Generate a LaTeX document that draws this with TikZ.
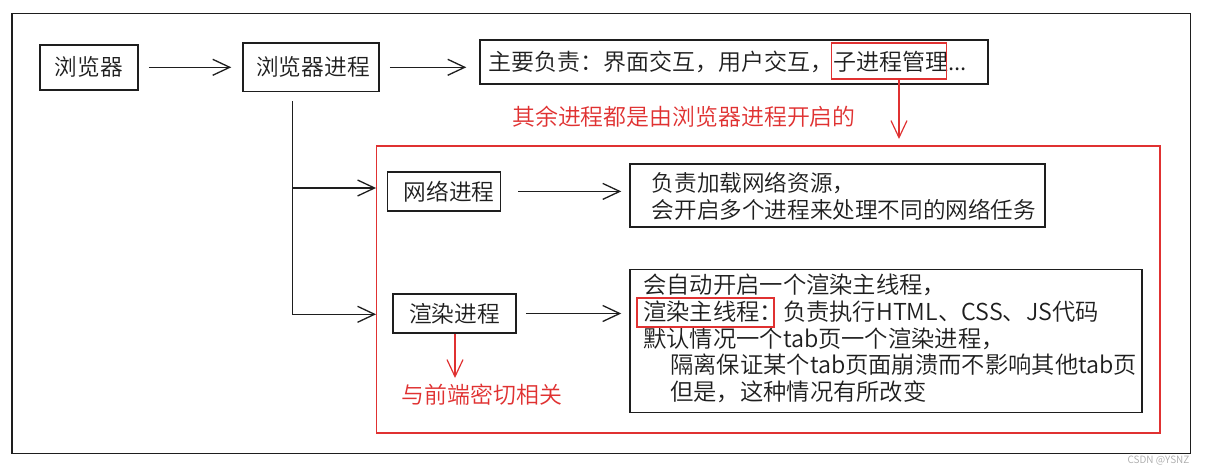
\documentclass[tikz,border=0pt]{standalone}
\usepackage{fontspec}
\setmainfont{Noto Sans CJK SC}[UprightFont=* DemiLight]
\usetikzlibrary{arrows.meta,calc}
\definecolor{ink}{HTML}{1E1E1E}
\definecolor{redx}{HTML}{E03131}
\definecolor{wmgray}{HTML}{ABABAB}
\begin{document}
\begin{tikzpicture}[x=1pt,y=-1pt,
  box/.style={draw=ink, line width=1.5pt, inner sep=0pt, text=ink, font=\fontsize{22.7}{26}\selectfont},
  txt/.style={text=ink, inner sep=0pt, align=left},
  hl/.style={draw=redx, line width=1.2pt, inner sep=0pt},
  conn/.style={draw=ink, line width=1.3pt, -{Straight Barb[length=17pt,width=16pt]}},
  rconn/.style={draw=redx, line width=1.2pt, -{Straight Barb[length=17pt,width=16pt]}},
  rtext/.style={text=redx, inner sep=0pt, font=\fontsize{22.9}{26}\selectfont},
]
\useasboundingbox (0,0) rectangle (1205,474);
\fill[white] (0,0) rectangle (1205,474);
% outer frame
\draw[ink, line width=1.5pt] (12,13.5) rectangle (1190.7,453.3);

% top row
\node[box, minimum width=98pt, minimum height=45pt] (b1) at (89,67.3) {浏览器};
\node[box, minimum width=136pt, minimum height=48.7pt] (b2) at (311,67.3) {\hspace*{4pt}浏览器进程};
\node[box, minimum height=44pt, text width=492pt, inner xsep=8pt, align=left, font=\fontsize{23}{26}\selectfont] (b3) at (734,62) {主要负责：界面交互，用户交互，子进程管理...};
\node[hl, minimum width=115pt, minimum height=36pt] (r1) at (889.2,61) {};

\draw[conn, shorten <=10pt, shorten >=11pt] (b1.east) -- (b2.west);
\draw[conn, shorten <=10pt, shorten >=13pt] (b2.east) -- (b2.east -| b3.west);

% red note
\node[rtext] (t1) at (684,117) {其余进程都是由浏览器进程开启的};
\coordinate (rt1) at (899,139);
\draw[rconn] (r1.south -| rt1) -- (rt1);

% red group
\node[draw=redx, line width=1.3pt, minimum width=783.3pt, minimum height=287pt, inner sep=0pt] (grp) at (768.35,289.5) {};

% trunk
\coordinate (j1) at (292.3,188);
\coordinate (j2) at (292.3,314.3);
\draw[conn] ($(b2.south -| j1)+(0,9)$) -- (j2) -- (j2 -| grp.west);
\draw[conn] (j1) -- (j1 -| grp.west);

% network process
\node[box, minimum width=113.4pt, minimum height=39.3pt] (b4) at (444,191.4) {\hspace*{10pt}网络进程};
\node[box, minimum width=415pt, minimum height=63pt] (b5) at (837.5,195.5) {};
\node[txt, anchor=west, font=\fontsize{22.6}{26.7}\selectfont] (b5t) at (651.7,196.3) {负责加载网络资源，\\会开启多个进程来处理不同的网络任务};
\draw[conn, shorten <=17pt, shorten >=8pt] (b4.east) -- (b4.east -| b5.west);

% render process
\node[box, minimum width=122.7pt, minimum height=39pt] (b6) at (454.4,313.5) {渲染进程};
\node[box, minimum width=512pt, minimum height=143pt] (b7) at (886,341) {};
\node[txt, anchor=west, font=\fontsize{23.3}{26.7}\selectfont] (b7t) at (643,338.4) {会自动开启一个渲染主线程，\\渲染主线程：负责执行HTML、CSS、JS代码\\默认情况一个tab页一个渲染进程，\\\hspace*{27pt}隔离保证某个tab页面崩溃而不影响其他tab页\\\hspace*{27pt}但是，这种情况有所改变};
\node[hl, minimum width=137pt, minimum height=29pt] (r2) at (705.5,312.5) {};
\draw[conn, shorten <=9.3pt, shorten >=8pt] (b6.east) -- (b6.east -| b7.west);

\node[rtext] (t2) at (482,395) {与前端密切相关};
\coordinate (rt2) at (455,378);
\draw[rconn] (b6.south -| rt2) -- (rt2);

% watermark
\node[text=wmgray, inner sep=0pt, font=\fontsize{10}{10}\selectfont] (wm) at (1158.5,461) {CSDN @YSNZ};
\end{tikzpicture}
\end{document}
